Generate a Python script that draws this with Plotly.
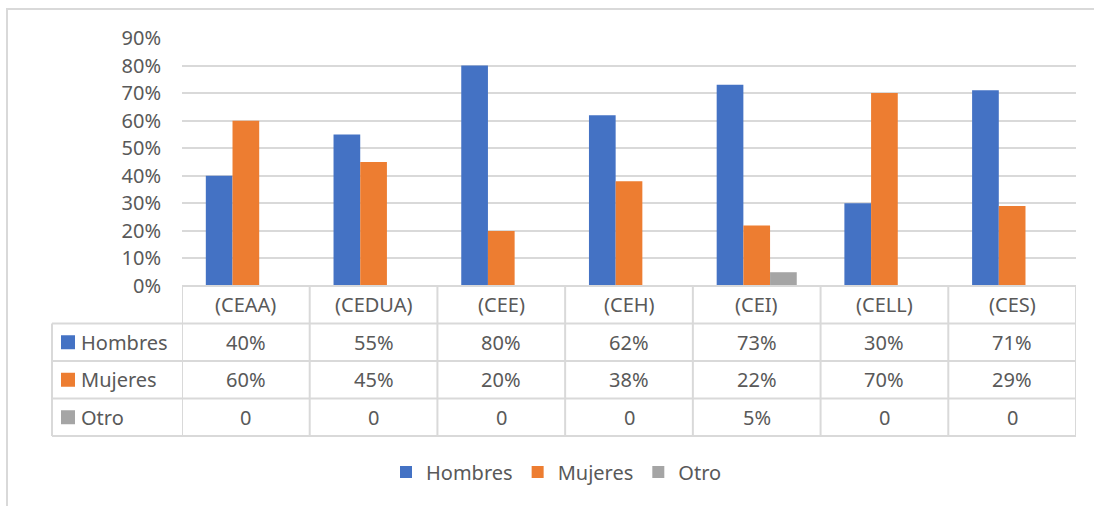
import plotly.graph_objects as go

# datos
categorias = ["(CEAA)", "(CEDUA)", "(CEE)", "(CEH)", "(CEI)", "(CELL)", "(CES)"]
hombres = [0.40, 0.55, 0.80, 0.62, 0.73, 0.30, 0.71]
mujeres = [0.60, 0.45, 0.20, 0.38, 0.22, 0.70, 0.29]
otro = [0, 0, 0, 0, 0.05, 0, 0]
series = ["Hombres", "Mujeres", "Otro"]
yticks = [0, 0.1, 0.2, 0.3, 0.4, 0.5, 0.6, 0.7, 0.8, 0.9]

COLORES = {"Hombres": "#4472C4", "Mujeres": "#ED7D31", "Otro": "#A5A5A5"}
TXT = "#595959"
LINEA = "#D9D9D9"
FUENTE = "Noto Sans"

W, H = 1094, 506
ML, MR, MT, MB = 182, 18, 38, 220
PW, PH = W - ML - MR, H - MT - MB


def px_x(p):
    return (p - ML) / PW


def px_y(p):
    return (H - MB - p) / PH


def fmt(v):
    return "0" if v == 0 else f"{round(v * 100)}%"


valores = {"Hombres": hombres, "Mujeres": mujeres, "Otro": otro}
xs = list(range(len(categorias)))

fig = go.Figure()
for s in series:
    fig.add_trace(go.Bar(
        x=xs, y=valores[s], name=s,
        marker=dict(color=COLORES[s], line=dict(width=0)),
    ))

shapes = []
annotations = []

# tabla de datos
fila_h = 37.5 / PH
y_rows = [-fila_h * k for k in range(5)]
x_izq = px_x(52)

# lineas horizontales
shapes.append(dict(type="line", xref="paper", yref="paper", x0=0, x1=1,
                   y0=y_rows[0], y1=y_rows[0], line=dict(color=LINEA, width=2)))
for y in y_rows[1:]:
    shapes.append(dict(type="line", xref="paper", yref="paper", x0=x_izq, x1=1,
                       y0=y, y1=y, line=dict(color=LINEA, width=2)))
# lineas verticales
for i in range(len(categorias) + 1):
    shapes.append(dict(type="line", xref="x", yref="paper", x0=i - 0.5, x1=i - 0.5,
                       y0=y_rows[0], y1=y_rows[4], line=dict(color=LINEA, width=2)))
shapes.append(dict(type="line", xref="paper", yref="paper", x0=x_izq, x1=x_izq,
                   y0=y_rows[1], y1=y_rows[4], line=dict(color=LINEA, width=2)))

# encabezados
for i, c in enumerate(categorias):
    annotations.append(dict(x=i, y=(y_rows[0] + y_rows[1]) / 2, xref="x", yref="paper",
                            xanchor="center", yanchor="middle",
                            text=c, showarrow=False, font=dict(size=20, color=TXT)))
# filas
for k, s in enumerate(series):
    yc = (y_rows[k + 1] + y_rows[k + 2]) / 2
    shapes.append(dict(type="rect", xref="paper", yref="paper",
                       x0=px_x(61), x1=px_x(75), y0=yc - 7 / PH, y1=yc + 7 / PH,
                       fillcolor=COLORES[s], line=dict(width=0)))
    annotations.append(dict(x=px_x(79), y=yc, xref="paper", yref="paper",
                            xanchor="left", yanchor="middle",
                            text=s, showarrow=False, font=dict(size=20, color=TXT)))
    for i, v in enumerate(valores[s]):
        annotations.append(dict(x=i, y=yc, xref="x", yref="paper",
                                xanchor="center", yanchor="middle",
                                text=fmt(v), showarrow=False, font=dict(size=20, color=TXT)))

# borde del grafico (solo se ven los lados izquierdo y superior)
shapes.append(dict(type="rect", xref="paper", yref="paper",
                   x0=px_x(7), x1=px_x(1110), y0=px_y(520), y1=px_y(9),
                   line=dict(color=LINEA, width=2), fillcolor="rgba(0,0,0,0)"))

fig.update_layout(
    width=W, height=H,
    margin=dict(l=ML, r=MR, t=MT, b=MB),
    paper_bgcolor="white", plot_bgcolor="white",
    font=dict(family=FUENTE, size=20, color=TXT),
    barmode="group", bargap=0.373, bargroupgap=0,
    xaxis=dict(range=[-0.5, len(categorias) - 0.5], showticklabels=False,
               showgrid=False, zeroline=False, fixedrange=True),
    yaxis=dict(range=[0, 0.9], tickvals=yticks, tickformat=".0%",
               showgrid=True, gridcolor=LINEA, gridwidth=2, zeroline=False,
               ticklabelstandoff=20, showline=False),
    legend=dict(orientation="h", x=px_x(386), xanchor="left", y=px_y(472), yanchor="middle",
                font=dict(size=20, color=TXT), traceorder="normal"),
    shapes=shapes, annotations=annotations,
)

fig.write_html("out.html", config={"displayModeBar": False},
               post_script="document.body.style.margin='0';")
